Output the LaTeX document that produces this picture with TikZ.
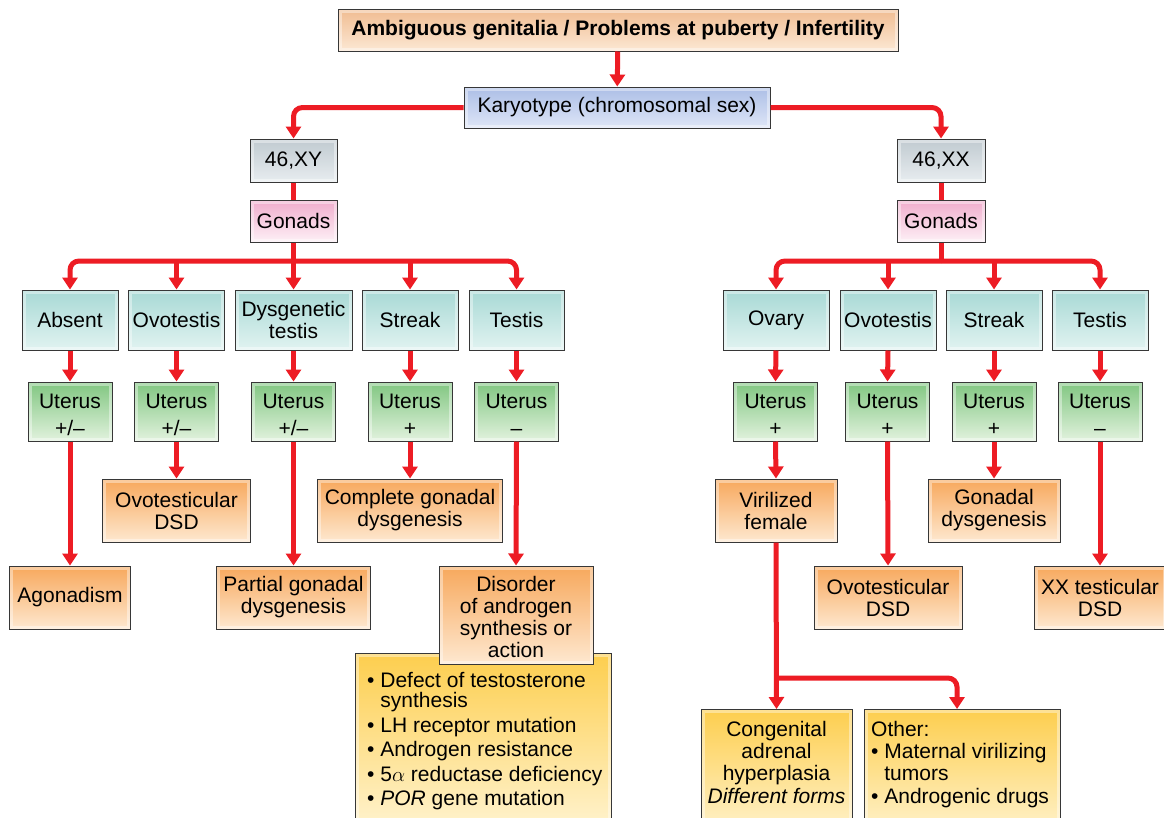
\documentclass[tikz,border=0pt]{standalone}
\usepackage{fontspec}
\setmainfont{Liberation Sans}
\usetikzlibrary{arrows.meta}
\definecolor{redl}{RGB}{237,28,36}
\definecolor{edgec}{RGB}{55,55,55}
\definecolor{peachT}{RGB}{240,188,145}
\definecolor{peachB}{RGB}{252,232,212}
\definecolor{blueT}{RGB}{172,190,230}
\definecolor{blueB}{RGB}{222,230,247}
\definecolor{grayT}{RGB}{192,202,208}
\definecolor{grayB}{RGB}{232,237,240}
\definecolor{pinkT}{RGB}{240,172,204}
\definecolor{pinkB}{RGB}{253,240,246}
\definecolor{tealT}{RGB}{168,217,213}
\definecolor{tealB}{RGB}{225,243,241}
\definecolor{greenT}{RGB}{128,198,128}
\definecolor{greenB}{RGB}{226,242,222}
\definecolor{orangeT}{RGB}{247,168,92}
\definecolor{orangeB}{RGB}{254,232,208}
\definecolor{yellowT}{RGB}{253,206,78}
\definecolor{yellowB}{RGB}{255,244,210}
\newcommand\myfs{\fontsize{21}{22}\selectfont}
\newcommand\ut[1]{\rule{0pt}{21pt}Uterus\\[5pt]#1}
\begin{document}
\begin{tikzpicture}[x=1pt,y=-1pt,
  box/.style={draw=edgec, line width=1pt, inner sep=1pt, align=center, font=\myfs,
    path picture={\draw[white, opacity=0.4, line width=7pt] (path picture bounding box.south west) rectangle (path picture bounding box.north east);}},
  peachbox/.style={box, top color=peachT, bottom color=peachB},
  bluebox/.style={box, top color=blueT, bottom color=blueB},
  graybox/.style={box, top color=grayT, bottom color=grayB, minimum width=87pt, minimum height=43pt},
  pinkbox/.style={box, top color=pinkT, bottom color=pinkB, minimum width=87pt, minimum height=42pt},
  tealbox/.style={box, top color=tealT, bottom color=tealB, minimum width=96pt, minimum height=60pt},
  uterusbox/.style={box, top color=greenT, bottom color=greenB, minimum width=84pt, minimum height=59pt},
  orangebox/.style={box, top color=orangeT, bottom color=orangeB, minimum height=63pt},
  yellowbox/.style={box, top color=yellowT, bottom color=yellowB},
  txt/.style={inner sep=0pt, font=\myfs},
  arr/.style={draw=redl, line width=5pt, -{Triangle[width=15pt,length=12pt]}},
  ln/.style={draw=redl, line width=5pt}]
\path[fill=white] (0,0) rectangle (1164,817);
\useasboundingbox (0,0) rectangle (1164,817);
\clip (0,0) rectangle (1164,817);

% top levels
\node[peachbox, minimum width=560pt, minimum height=42pt, font=\myfs\bfseries] (top) at (618,30) {Ambiguous genitalia / Problems at puberty / Infertility};
\node[bluebox, minimum width=306pt, minimum height=41pt] (kary) at (617,107.5) {Karyotype (chromosomal sex)};
\node[graybox] (xy) at (293.5,160.5) {46,XY};
\node[pinkbox] (gonL) at (293.5,221) {Gonads};
\node[graybox, minimum width=88pt] (xx) at (941,160.5) {46,XX};
\node[pinkbox, minimum width=88pt] (gonR) at (941,221) {Gonads};

% gonad rows
\node[tealbox] (absent) at (70,320) {Absent};
\node[tealbox] (ovoL) at (176.5,320) {Ovotestis};
\node[tealbox, minimum width=117pt] (dysg) at (293.5,320) {Dysgenetic\\testis};
\node[tealbox] (streakL) at (410,320) {Streak};
\node[tealbox, minimum width=95pt] (testisL) at (516.5,320) {Testis};
\node[tealbox, minimum width=106pt] (ovary) at (776,320) {Ovary};
\node[tealbox] (ovoR) at (888,320) {Ovotestis};
\node[tealbox] (streakR) at (994,320) {Streak};
\node[tealbox] (testisR) at (1100,320) {Testis};

% uterus rows
\node[uterusbox] (u1) at (70,411.5) {\ut{+/–}};
\node[uterusbox] (u2) at (176.5,411.5) {\ut{+/–}};
\node[uterusbox] (u3) at (293.5,411.5) {\ut{+/–}};
\node[uterusbox] (u4) at (410,411.5) {\ut{+}};
\node[uterusbox] (u5) at (516.5,411.5) {\ut{–}};
\node[uterusbox] (u6) at (775.5,411.5) {\ut{+}};
\node[uterusbox] (u7) at (887.5,411.5) {\ut{+}};
\node[uterusbox] (u8) at (994,411.5) {\ut{+}};
\node[uterusbox] (u9) at (1100,411.5) {\ut{–}};

% outcomes
\node[orangebox, minimum width=148pt] (ovdsdL) at (176.5,510.5) {Ovotesticular\\DSD};
\node[orangebox, minimum width=185pt] (cgd) at (410,510.5) {Complete gonadal\\dysgenesis};
\node[orangebox, minimum width=121pt] (agon) at (70,597.5) {Agonadism};
\node[orangebox, minimum width=154pt] (pgd) at (293.5,597.5) {Partial gonadal\\dysgenesis};
\node[yellowbox, minimum width=256pt, minimum height=180pt, anchor=north] (list) at (483,653) {};
\node[txt, anchor=north west, align=left] (listtxt) at (367,672) {\textbullet\ Defect of testosterone\\[-1.5pt]
\hphantom{\textbullet\ }synthesis\\[2.5pt]
\textbullet\ LH receptor mutation\\[2.5pt]
\textbullet\ Androgen resistance\\[2.5pt]
\textbullet\ 5$\alpha$ reductase deficiency\\[2.5pt]
\textbullet\ \textit{POR} gene mutation};
\node[orangebox, minimum width=154pt, minimum height=98pt] (dis) at (516,615) {\rule{0pt}{19pt}Disorder\\of androgen\\synthesis or\\action};

\node[orangebox, minimum width=122pt] (vir) at (776,510.5) {Virilized\\female};
\node[orangebox, minimum width=132pt] (gd) at (994,510.5) {Gonadal\\dysgenesis};
\node[orangebox, minimum width=148pt] (ovdsdR) at (888,597.5) {Ovotesticular\\DSD};
\node[orangebox, minimum width=132pt] (xxdsd) at (1100,597.5) {XX testicular\\DSD};

\node[yellowbox, minimum width=151pt, minimum height=130pt, anchor=north] (cah) at (776.5,709) {};
\node[txt, anchor=north, align=center] (cahtxt) at (776.5,721) {Congenital\\adrenal\\hyperplasia\\[1.5pt]\textit{Different forms}};
\node[yellowbox, minimum width=196pt, minimum height=130pt, anchor=north] (other) at (962,709) {};
\node[txt, anchor=north west, align=left] (othertxt) at (871,721) {Other:\\
\textbullet\ Maternal virilizing\\
\hphantom{\textbullet\ }tumors\\[1.5pt]
\textbullet\ Androgenic drugs};

% coordinates
\coordinate (busL) at (293.5,261);
\coordinate (busR) at (941,261);
\coordinate (split) at (776,678);
\coordinate (othtip) at (957,709);

% connectors
\draw[arr] (top) -- (kary);
\draw[arr, rounded corners=9pt] (kary.west) -| (xy.north);
\draw[arr, rounded corners=9pt] (kary.east) -| (xx.north);
\draw[ln] (xy) -- (gonL);
\draw[ln] (xx) -- (gonR);

\draw[arr] (gonL.south) -- (dysg.north);
\draw[arr, rounded corners=9pt] (busL) -| (absent.north);
\draw[arr, rounded corners=9pt] (busL) -| (testisL.north);
\draw[arr] (ovoL.north |- busL) -- (ovoL.north);
\draw[arr] (streakL.north |- busL) -- (streakL.north);

\draw[ln] (gonR.south) -- (busR);
\draw[arr, rounded corners=9pt] (busR) -| (ovary.north);
\draw[arr, rounded corners=9pt] (busR) -| (testisR.north);
\draw[arr] (ovoR.north |- busR) -- (ovoR.north);
\draw[arr] (streakR.north |- busR) -- (streakR.north);

\foreach \g/\u in {absent/u1, ovoL/u2, dysg/u3, streakL/u4, testisL/u5, ovary/u6, ovoR/u7, streakR/u8, testisR/u9}
  \draw[arr] (\g.south) -- (\u.north);

\draw[arr] (u1.south) -- (agon.north);
\draw[arr] (u2.south) -- (ovdsdL.north);
\draw[arr] (u3.south) -- (pgd.north);
\draw[arr] (u4.south) -- (cgd.north);
\draw[arr] (u5.south) -- (dis.north);
\draw[arr] (u6.south) -- (vir.north);
\draw[arr] (u7.south) -- (ovdsdR.north);
\draw[arr] (u8.south) -- (gd.north);
\draw[arr] (u9.south) -- (xxdsd.north);

\draw[arr] (vir.south) -- (cah.north);
\draw[arr, rounded corners=9pt] (split) -| (othtip);
\end{tikzpicture}
\end{document}
